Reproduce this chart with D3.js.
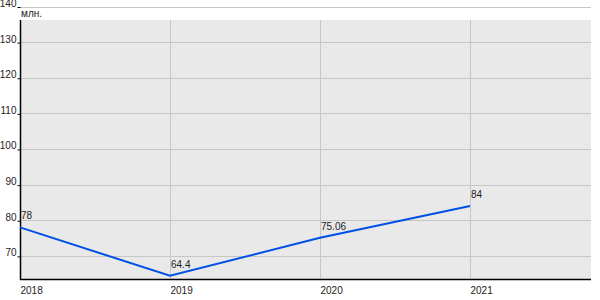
<!DOCTYPE html>
<html>
<head>
<meta charset="utf-8">
<script src="https://cdn.jsdelivr.net/npm/d3@7"></script>
<style>
  body { margin: 0; background: #fff; }
  svg text { font-family: "Liberation Sans", Arial, sans-serif; font-size: 10px; fill: #222; }
</style>
</head>
<body>
<svg></svg>
<script>
const years = [2018, 2019, 2020, 2021]
const values = [78, 64.4, 75.06, 84]
const yTicks = [70, 80, 90, 100, 110, 120, 130, 140]
const unitLabel = "млн."

const svg = d3.select("svg")
  .attr("width", 600)
  .attr("height", 300)

const left = 20
const right = 591
const plotTop = 20
const bottom = 279

const scaleX = d3.scaleLinear()
  .domain([2018, 2021])
  .range([left, 470])

const scaleY = d3.scaleLinear()
  .domain([63.5, 140])
  .range([bottom, 6.5])

// plot background
svg.append("rect")
  .attr("x", left)
  .attr("y", plotTop)
  .attr("width", right - left)
  .attr("height", bottom - plotTop)
  .attr("fill", "#e9e9e9")

// horizontal grid
svg.append("g")
  .selectAll("line")
  .data(yTicks)
  .join("line")
  .attr("x1", left)
  .attr("x2", right)
  .attr("y1", d => Math.round(scaleY(d)) + 0.5)
  .attr("y2", d => Math.round(scaleY(d)) + 0.5)
  .attr("stroke", "#c6c6c6")

// vertical grid
svg.append("g")
  .selectAll("line")
  .data(years.slice(1))
  .join("line")
  .attr("x1", d => Math.round(scaleX(d)) + 0.5)
  .attr("x2", d => Math.round(scaleX(d)) + 0.5)
  .attr("y1", plotTop)
  .attr("y2", bottom)
  .attr("stroke", "#c6c6c6")

// y axis
const axisY = d3.axisLeft(scaleY)
  .tickValues(yTicks)
  .tickSizeInner(3)
  .tickSizeOuter(0)
  .tickPadding(1)

const yAxisGroup = svg.append("g")
  .attr("transform", `translate(${left + 0.5}, 0)`)
  .call(axisY)

yAxisGroup.select(".domain").remove()
yAxisGroup.selectAll(".tick line")
  .attr("stroke", "#000")
  .attr("transform", "translate(0, 0.5)")
yAxisGroup.selectAll(".tick text")
  .attr("dy", "0")
  .attr("y", 0)
  .style("font-family", "Liberation Sans, Arial, sans-serif")
  .style("font-size", "10px")
  .attr("fill", "#222")

svg.append("line")
  .attr("x1", left + 0.5)
  .attr("x2", left + 0.5)
  .attr("y1", plotTop)
  .attr("y2", bottom + 1)
  .attr("stroke", "#000")
  .attr("stroke-width", 1.5)

// x axis
const axisX = d3.axisBottom(scaleX)
  .tickValues(years)
  .tickFormat(d3.format("d"))
  .tickSize(0)
  .tickPadding(8)

const xAxisGroup = svg.append("g")
  .attr("transform", `translate(0, ${bottom})`)
  .call(axisX)

xAxisGroup.select(".domain").remove()
xAxisGroup.selectAll(".tick text")
  .attr("text-anchor", "start")
  .style("font-family", "Liberation Sans, Arial, sans-serif")
  .style("font-size", "10px")
  .attr("fill", "#222")

svg.append("line")
  .attr("x1", left)
  .attr("x2", right)
  .attr("y1", bottom + 0.5)
  .attr("y2", bottom + 0.5)
  .attr("stroke", "#000")
  .attr("stroke-width", 1.5)

// unit label
svg.append("text")
  .attr("x", left + 1)
  .attr("y", 17)
  .text(unitLabel)

// line
const points = years.map((y, i) => ({ year: y, value: values[i] }))

const line = d3.line()
  .x(d => scaleX(d.year))
  .y(d => scaleY(d.value))

svg.append("path")
  .datum(points)
  .attr("d", line)
  .attr("fill", "none")
  .attr("stroke", "#0050e6")
  .attr("stroke-width", 2)

svg.append("g")
  .selectAll("text")
  .data(points)
  .join("text")
  .attr("x", d => scaleX(d.year) + 1)
  .attr("y", d => scaleY(d.value) - 8)
  .text(d => d.value)
</script>
</body>
</html>
